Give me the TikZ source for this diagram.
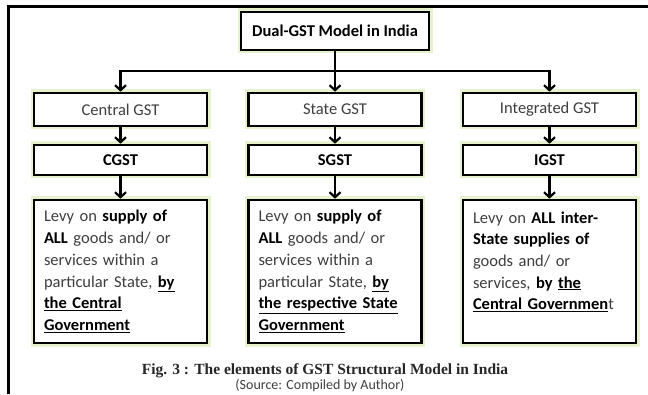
\documentclass[tikz,border=0pt]{standalone}
\usepackage{fontspec}
\setmainfont{Carlito}
\newfontfamily\capfont{Liberation Serif}
\usetikzlibrary{arrows.meta}
\definecolor{glow}{RGB}{230,242,205}
\definecolor{txt}{RGB}{62,62,62}
\newcommand\bterm[1]{\textcolor{black}{\textbf{#1}}}
\newcommand\uterm[1]{\textcolor{black}{\underline{\textbf{#1}}}}

\begin{document}
\begin{tikzpicture}[x=1pt,y=1pt,
  box/.style={draw,line width=2.6pt,fill=white,preaction={draw=glow,line width=7pt},
    minimum width=173pt,inner sep=0pt,text=txt,font=\fontsize{16.5}{21.7}\selectfont},
  headbox/.style={box,minimum height=33pt},
  taxbox/.style={box,minimum height=30pt},
  levybox/.style={box,minimum height=143pt,text width=153pt,align=left},
  conn/.style={line width=2.2pt},
  arr/.style={conn,-{Straight Barb[length=5pt,width=11pt]}}]
  \useasboundingbox (0,0) rectangle (648,394);
  \draw[line width=3pt] (8,0) -- (8,387) -- (648,387);
  \node[box,minimum width=188pt,minimum height=38pt] (model) at (335,363) {\bterm{Dual-GST Model in India}};
  \node[headbox] (cen) at (120.5,284.5) {Central GST};
  \node[headbox] (sta) at (335,284.5) {State GST};
  \node[headbox] (int) at (549.5,284.5) {Integrated GST};
  \node[taxbox] (cgst) at (120.5,234) {\bterm{CGST}};
  \node[taxbox] (sgst) at (335,234) {\bterm{SGST}};
  \node[taxbox] (igst) at (549.5,234) {\bterm{IGST}};
  \node[levybox] (clevy) at (120.5,122.5) {Levy on \bterm{supply of}\\
    \bterm{ALL} goods and/ or\\ services within a\\ particular State, \uterm{by}\\
    \uterm{the Central}\\ \uterm{Government}};
  \node[levybox] (slevy) at (335,122.5) {Levy on \bterm{supply of}\\
    \bterm{ALL} goods and/ or\\ services within a\\ particular State, \uterm{by}\\
    \uterm{the respective State}\\ \uterm{Government}};
  \node[levybox] (ilevy) at (549.5,122.5) {Levy on \bterm{ALL inter-}\\
    \bterm{State supplies of}\\ goods and/ or\\ services, \bterm{by} \uterm{the}\\
    \uterm{Central Governmen}t\\ \mbox{}};
  \coordinate (split) at (335,323);
  \draw[conn] (model.south) -- (split);
  \draw[arr] (split) -| (cen.north);
  \draw[arr] (split) -- (sta.north);
  \draw[arr] (split) -| (int.north);
  \draw[arr] (cen) -- (cgst);
  \draw[arr] (sta) -- (sgst);
  \draw[arr] (int) -- (igst);
  \draw[arr] (cgst) -- (clevy);
  \draw[arr] (sgst) -- (slevy);
  \draw[arr] (igst) -- (ilevy);
  \node[font=\capfont\bfseries\fontsize{15.5}{18}\selectfont,text=black!85] (cap) at (325,23) {Fig. 3 : The elements of GST Structural Model in India};
  \node[font=\fontsize{14}{16}\selectfont,text=txt] (src) at (320,8) {(Source: Compiled by Author)};
\end{tikzpicture}
\end{document}
